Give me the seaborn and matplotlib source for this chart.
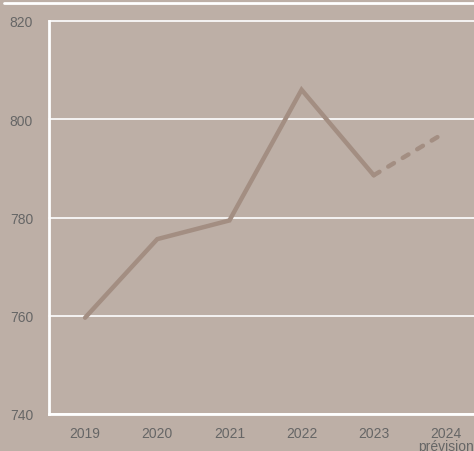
import matplotlib
matplotlib.use("Agg")
import matplotlib.pyplot as plt
import seaborn as sns
from matplotlib.lines import Line2D
from matplotlib.ticker import FixedLocator

# données
annees = ["2019", "2020", "2021", "2022", "2023", "2024\nprévision"]
valeurs = [759.6, 775.6, 779.4, 806.0, 788.6, 797.4]
y_ticks = [740, 760, 780, 800, 820]

fond = "#bdafa6"
couleur_ligne = "#a38e82"
gris_texte = "#666666"

sns.set_style("white")
plt.rcParams["font.family"] = ["Liberation Sans", "DejaVu Sans"]

fig = plt.figure(figsize=(4.74, 4.52), dpi=100, facecolor=fond)
ax = fig.add_axes([49 / 474, 37 / 452, 433 / 474, 393 / 452])
ax.set_facecolor(fond)

x = list(range(len(annees)))

# partie réalisée (trait plein) et prévision (tirets)
sns.lineplot(x=x[:5], y=valeurs[:5], ax=ax, color=couleur_ligne, linewidth=3.2,
             solid_capstyle="round", solid_joinstyle="miter")
sns.lineplot(x=x[4:], y=valeurs[4:], ax=ax, color=couleur_ligne, linewidth=3.2,
             linestyle=(0, (1.5, 2.3)), dash_capstyle="round")

ax.set_xlim(-0.5, 5.5)
ax.set_ylim(740, 820)
ax.set_yticks(y_ticks)
ax.set_xticks(x)
ax.set_xticklabels(annees, color=gris_texte, fontsize=10, linespacing=0.85,
                   va="top", ha="center", multialignment="center")
ax.set_yticklabels([str(v) for v in y_ticks], color=gris_texte, fontsize=10)
ax.xaxis.set_minor_locator(FixedLocator([i + 0.5 for i in range(5)]))

ax.tick_params(axis="y", length=0, pad=11.5)
ax.tick_params(axis="x", which="major", length=0, pad=9)
ax.tick_params(axis="x", which="minor", length=3.5, width=1.5, direction="in",
               color="white")

ax.grid(axis="y", color="white", linewidth=1.2)
for gl in ax.get_ygridlines():
    gl.set_clip_on(False)
ax.set_axisbelow(True)
for side in ["top", "right"]:
    ax.spines[side].set_visible(False)
for side in ["left", "bottom"]:
    ax.spines[side].set_color("white")
    ax.spines[side].set_linewidth(2)
ax.set_xlabel("")
ax.set_ylabel("")

# filet blanc en haut
fig.add_artist(Line2D([4 / 474, 1], [1 - 3.5 / 452, 1 - 3.5 / 452],
                      transform=fig.transFigure, color="white", linewidth=2))

fig.savefig("out.png", dpi=100, facecolor=fond)
